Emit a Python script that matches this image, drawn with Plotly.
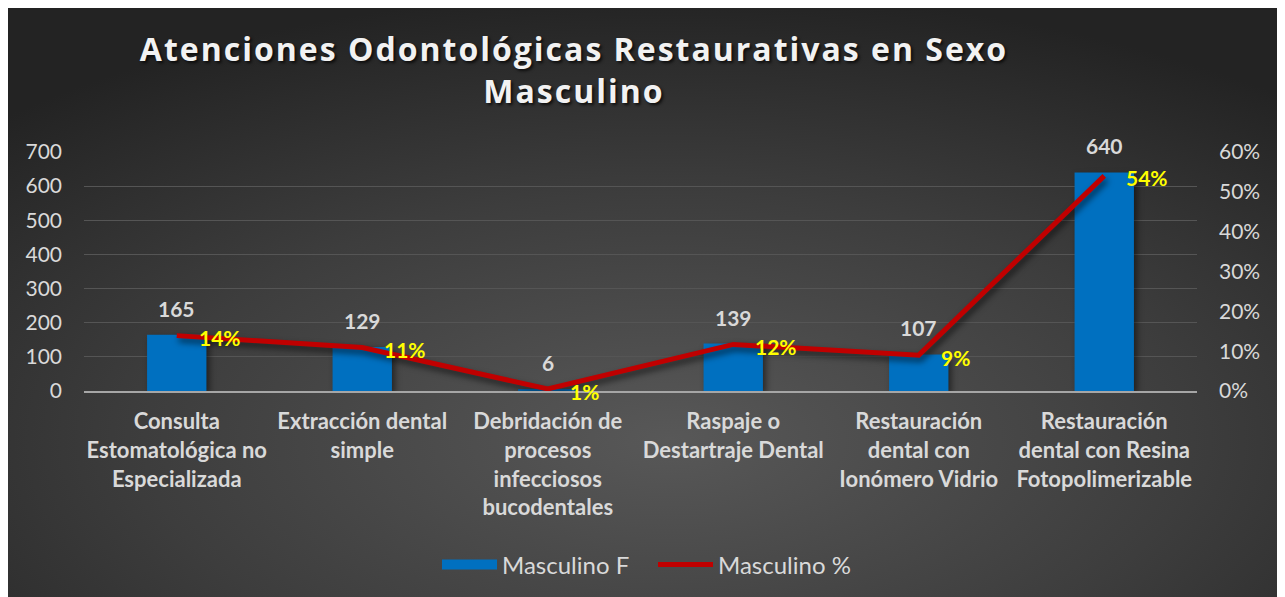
import base64
import plotly.graph_objects as go

# ---------------- data ----------------
categories = [
    "Consulta<br>Estomatológica no<br>Especializada",
    "Extracción dental<br>simple",
    "Debridación de<br>procesos<br>infecciosos<br>bucodentales",
    "Raspaje o<br>Destartraje Dental",
    "Restauración<br>dental con<br>Ionómero Vidrio",
    "Restauración<br>dental con Resina<br>Fotopolimerizable",
]
frecuencia = [165, 129, 6, 139, 107, 640]
porcentaje = [0.139, 0.109, 0.005, 0.117, 0.090, 0.540]
porcentaje_labels = ["14%", "11%", "1%", "12%", "9%", "54%"]
y_ticks = [0, 100, 200, 300, 400, 500, 600, 700]
y2_ticks = [0, 0.1, 0.2, 0.3, 0.4, 0.5, 0.6]

W, H = 1285, 597
L, R, T, B = 76, 96, 144, 214
PW, PH = W - L - R, H - T - B

FONT = "Lato"
GRAY = "#d9d9d9"

# background gradient as svg image
BGW, BGH = 1271, 600
svg = f"""<svg xmlns='http://www.w3.org/2000/svg' width='{BGW}' height='{BGH}' preserveAspectRatio='none'>
<defs><radialGradient id='g' cx='52%' cy='72%' r='75%'>
<stop offset='0' stop-color='#585858'/><stop offset='0.55' stop-color='#3d3d3d'/><stop offset='1' stop-color='#232323'/>
</radialGradient></defs><rect width='{BGW}' height='{BGH}' fill='url(#g)'/></svg>"""
src = "data:image/svg+xml;base64," + base64.b64encode(svg.encode()).decode()

fig = go.Figure()
fig.add_trace(go.Bar(
    x=categories, y=frecuencia, name="Masculino F",
    marker=dict(color="#0070C0", line=dict(width=0)),
    width=0.32, yaxis="y", showlegend=False,
))
# legend entry drawn as a wide blue band (legend only)
fig.add_trace(go.Scatter(
    x=[None], y=[None], name="Masculino F", mode="lines",
    line=dict(color="#0070C0", width=18), yaxis="y",
))
fig.add_trace(go.Scatter(
    x=categories, y=porcentaje, name="Masculino %", mode="lines",
    line=dict(color="#C00000", width=5), yaxis="y2",
))

annotations = []
for c, v in zip(categories, frecuencia):
    annotations.append(dict(x=c, y=v, xref="x", yref="y", text=str(v), showarrow=False,
                            yanchor="bottom", yshift=12,
                            font=dict(family=FONT, size=21, color=GRAY, weight="bold")))
for c, p, t in zip(categories, porcentaje, porcentaje_labels):
    annotations.append(dict(x=c, y=p, xref="x", yref="y2", text=t, showarrow=False,
                            xanchor="left", xshift=20, yshift=-2,
                            font=dict(family=FONT, size=21, color="#FFFF00", weight="bold")))

fig.update_layout(
    width=W, height=H,
    margin=dict(l=L, r=R, t=T, b=B, pad=0),
    paper_bgcolor="white", plot_bgcolor="rgba(0,0,0,0)",
    images=[dict(source=src, xref="paper", yref="paper",
                 x=(0 - L) / PW, y=(H - B - 0) / PH,
                 sizex=BGW / PW, sizey=BGH / PH,
                 xanchor="left", yanchor="top", sizing="stretch", layer="below")],
    title=dict(text="Atenciones Odontológicas Restaurativas en Sexo<br>Masculino",
               x=566 / W, xanchor="center", y=1 - 53 / H, yanchor="middle",
               font=dict(family="Open Sans", size=32, color="#f2f2f2", weight="bold",
                         shadow="2px 2px 3px rgba(0,0,0,0.7)")),
    xaxis=dict(showgrid=False, showline=True, linecolor="#a6a6a6", linewidth=2,
               tickfont=dict(family=FONT, size=22, color=GRAY, weight="bold"),
               ticks="", ticklabelstandoff=10),
    yaxis=dict(range=[0, 700], tickvals=y_ticks, showgrid=True, gridcolor="#555555",
               gridwidth=1, zeroline=False, showline=False,
               tickfont=dict(family=FONT, size=21, color=GRAY), ticklabelstandoff=21),
    yaxis2=dict(range=[0, 0.6], tickvals=y2_ticks, tickformat=".0%", overlaying="y",
                side="right", showgrid=False, zeroline=False, showline=False,
                tickfont=dict(family=FONT, size=21, color=GRAY), ticklabelstandoff=21),
    legend=dict(orientation="h", x=429 / W, xanchor="left", xref="container",
                y=1 - 557 / H, yanchor="middle", yref="container",
                font=dict(family=FONT, size=24, color=GRAY), bgcolor="rgba(0,0,0,0)",
                itemwidth=55, entrywidth=146, entrywidthmode="pixels"),
    annotations=annotations,
    showlegend=True,
)

post = """
document.querySelectorAll('.gtitle').forEach(function(e){e.style.letterSpacing='2px';});
document.querySelectorAll('.scatterlayer .js-line').forEach(function(e){e.style.filter='drop-shadow(2px 4px 3px rgba(0,0,0,0.6))';});
document.querySelectorAll('.barlayer .point path').forEach(function(e){e.style.filter='drop-shadow(3px 3px 3px rgba(0,0,0,0.5))';});
"""
fig.write_html("out.html", post_script=post)
